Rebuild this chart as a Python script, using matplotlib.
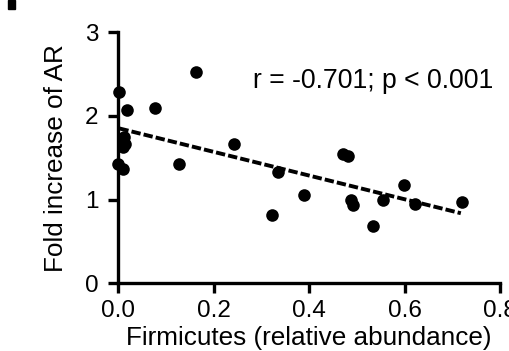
import matplotlib
matplotlib.use("Agg")
import matplotlib.pyplot as plt
from matplotlib.patches import Rectangle
import numpy as np

plt.rcParams['font.family'] = ['Liberation Sans', 'DejaVu Sans']

# Data
firmicutes = [0.002, 0.019, 0.078, 0.164, 0.243, 0.127, 0.001, 0.010,
              0.012, 0.014, 0.010,
              0.335, 0.389, 0.322, 0.472, 0.482, 0.488, 0.493, 0.535,
              0.556, 0.598, 0.623, 0.720]
fold_ar = [2.29, 2.07, 2.10, 2.53, 1.67, 1.43, 1.43, 1.37,
           1.75, 1.67, 1.63,
           1.33, 1.05, 0.82, 1.54, 1.52, 1.00, 0.93, 0.69,
           1.00, 1.17, 0.95, 0.975]
fit_intercept = 1.855
fit_slope = -1.417
fit_x_range = [0.003, 0.718]
x_ticks = [0.0, 0.2, 0.4, 0.6, 0.8]
x_ticklabels = ['0.0', '0.2', '0.4', '0.6', '0.8']
y_ticks = [0, 1, 2, 3]
y_ticklabels = ['0', '1', '2', '3']
annotation = 'r = -0.701; p < 0.001'

fig = plt.figure(figsize=(5.10, 3.51), dpi=100)
ax = fig.add_axes([118/510, 1-283.3/351, (500-118)/510, (283.3-32.3)/351])

ax.scatter(firmicutes, fold_ar, s=82, color='black', zorder=3, clip_on=False, linewidths=0)
fx = np.array(fit_x_range)
ax.plot(fx, fit_intercept + fit_slope*fx, color='black', lw=2.8, ls=(0, (2.4, 0.8)),
        dash_capstyle='butt', zorder=2)

ax.set_xlim(0, 0.8)
ax.set_ylim(0, 3)
ax.set_xticks(x_ticks)
ax.set_xticklabels(x_ticklabels)
ax.set_yticks(y_ticks)
ax.set_yticklabels(y_ticklabels)
for s in ['top', 'right']:
    ax.spines[s].set_visible(False)
for s in ['left', 'bottom']:
    ax.spines[s].set_linewidth(2.4)
ax.tick_params(width=2.4, length=7, labelsize=17.5)
ax.tick_params(axis='x', pad=5)
ax.tick_params(axis='y', pad=7)

ax.set_xlabel('Firmicutes (relative abundance)', fontsize=18.8, labelpad=3)
ax.set_ylabel('Fold increase of AR', fontsize=18.8, labelpad=12)
ax.text(0.785, 2.34, annotation, fontsize=19.2, ha='right', va='baseline')

fig.patches.append(Rectangle((8/510, 1-9/351), 7/510, 9/351, transform=fig.transFigure,
                             color='black', clip_on=False))

fig.savefig('out.png', dpi=100)
